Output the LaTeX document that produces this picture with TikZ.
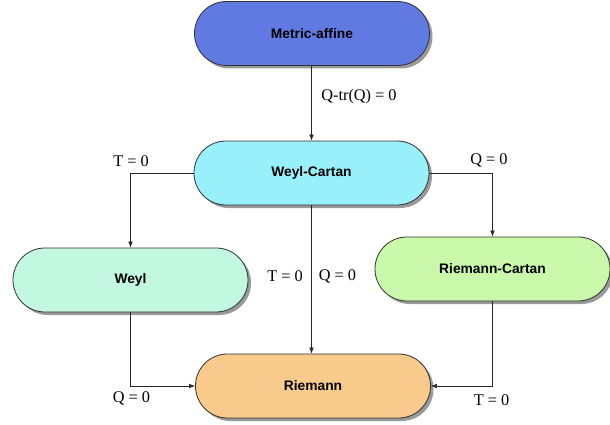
\documentclass[tikz,border=0pt]{standalone}
\usepackage{fontspec}
\setmainfont{Liberation Serif}
\setsansfont{Liberation Sans}
\usetikzlibrary{arrows.meta,shadows}
\definecolor{cma}{RGB}{96,122,226}
\definecolor{cwc}{RGB}{152,240,250}
\definecolor{cw}{RGB}{194,248,224}
\definecolor{crc}{RGB}{202,248,170}
\definecolor{cr}{RGB}{248,202,140}
\definecolor{edgegray}{RGB}{50,50,50}
\tikzset{
  stadium/.style={draw=edgegray, line width=0.8pt, rectangle, rounded corners=31.9pt,
    minimum width=235pt, minimum height=64pt, inner sep=0pt,
    font=\sffamily\bfseries\fontsize{13.8}{16}\selectfont,
    drop shadow={shadow xshift=3pt, shadow yshift=-3pt, fill=black!40, opacity=1}},
  arr/.style={draw=black!85, line width=0.6pt, -{Latex[length=6pt,width=4.5pt]}},
  lab/.style={font=\fontsize{16.3}{19}\selectfont, inner sep=0pt}
}
\begin{document}
\begin{tikzpicture}[x=1pt,y=-1pt]
\useasboundingbox[fill=white] (0,0) rectangle (610,425);
\node[stadium, fill=cma] (ma) at (312,33.5) {Metric-affine};
\node[stadium, fill=cwc] (wc) at (311.5,173) {Weyl-Cartan};
\node[stadium, fill=cw] (w) at (130.5,280) {Weyl};
\node[stadium, fill=crc] (rc) at (492.5,269) {Riemann-Cartan};
\node[stadium, fill=cr] (r) at (313,386) {Riemann};

\draw[arr] (ma.south -| wc.north) -- (wc.north);
\draw[arr] (wc.west) -| (w.north);
\draw[arr] (wc.east) -| (rc.north);
\draw[arr] (wc.south) -- (wc.south |- r.north);
\draw[arr] (w.south) |- (r.west);
\draw[arr] (rc.south) |- (r.east);

\node[lab] (l1) at (359,97) {Q-tr(Q) = 0};
\node[lab] (l2) at (131,161) {T = 0};
\node[lab] (l3) at (489,160) {Q = 0};
\node[lab] (l4) at (285,276) {T = 0};
\node[lab] (l5) at (337.5,276) {Q = 0};
\node[lab] (l6) at (131.5,398) {Q = 0};
\node[lab] (l7) at (491.5,400) {T = 0};
\end{tikzpicture}
\end{document}
